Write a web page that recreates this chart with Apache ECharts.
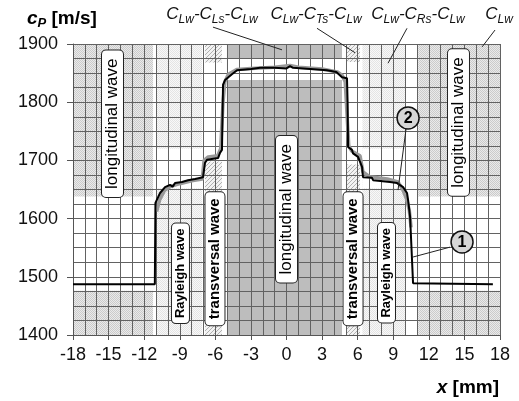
<!DOCTYPE html>
<html><head><meta charset="utf-8">
<script src="https://cdn.jsdelivr.net/npm/echarts@6/dist/echarts.min.js"></script>
<style>html,body{margin:0;padding:0;background:#fff}#c{width:519px;height:401px}</style>
</head><body><div id="c"></div>
<script>
// ---------- data ----------
const xRange = [-18, 18];
const yRange = [1400, 1900];
// curve 1 (black)
const curve1 = [[-18,1487],[-11.1,1487],[-11.05,1627],[-10.92,1630],[-10.66,1644],[-10.24,1654],[-9.82,1658],[-9.6,1655],[-9.4,1661],[-8.81,1663],[-8.3,1666],[-7.71,1668],[-7.04,1671],[-6.87,1696],[-6.7,1701],[-5.77,1704],[-5.61,1713],[-5.44,1718],[-5.4,1770],[-5.35,1830],[-5.18,1838],[-4.6,1848],[-4.17,1855],[-3,1857],[-2.23,1859],[-1,1859],[0,1858],[0.3,1862],[0.55,1859],[2,1857],[3.42,1855],[4.2,1852],[4.68,1843],[5.1,1841],[5.15,1800],[5.19,1723],[5.52,1718],[5.61,1712],[6.03,1706],[6.37,1689],[6.45,1671],[7.21,1670],[7.3,1666],[8.73,1663],[9.32,1661],[9.83,1654],[10.16,1644],[10.25,1632],[10.42,1603],[10.67,1489],[10.75,1487],[17.4,1487]];
// curve 2 (gray)
const curve2 = [[-10.95,1612],[-10.7,1632],[-10.3,1648],[-9.8,1655],[-9,1660],[-8,1665],[-7.1,1668],[-6.95,1700],[-6.6,1706],[-5.8,1708],[-5.55,1720],[-5.35,1800],[-5.2,1835],[-4.9,1848],[-4.2,1856],[-3,1858],[-1,1860],[0.3,1863],[1,1860],[3,1857],[4.3,1852],[4.7,1846],[4.95,1835],[5.25,1725],[5.5,1716],[6.2,1708],[6.45,1680],[7,1672],[8.5,1668],[9.4,1663],[9.8,1650],[10.1,1635],[10.35,1615],[10.5,1585]];
// background zones: [x0, x1, y0, y1, kind]  kind: 0=CLw stipple,1=Rayleigh stipple,2=hatch,3=dark,4=white window
const zones = [
  [-18,-11.25,1400,1900,0],[11.1,18,1400,1900,0],
  [-11.0,-7.12,1400,1900,1],[6.4,10.0,1400,1900,1],
  [-6.87,-5.44,1400,1900,2],[5.1,6.2,1400,1900,2],
  [-5.02,4.68,1400,1900,3]
];
const windows = [
  [-18,-11.25,1476,1638,4],[11.1,18,1476,1638,4],
  [-11.0,-7.12,1652,1720,4],[6.4,10.0,1652,1720,4],
  [-6.87,-5.44,1698,1868,4],[5.1,6.2,1693,1869,4],
  [-5.02,4.68,1838,1876,4]
];
// annotations (data coordinates)
const waveLabels = [
  ['longitudinal wave',-14.67,1763,'L'],['longitudinal wave',14.5,1765,'L'],['longitudinal wave',0,1616,'L'],
  ['Rayleigh wave',-8.94,1506,'R'],['transversal wave',-6.03,1531,'T'],
  ['transversal wave',5.61,1531,'T'],['Rayleigh wave',8.43,1507,'R']
];
const topLabels = [
  [['C','Lw','-C','Ls','-C','Lw'],-6.28,1951],
  [['C','Lw','-C','Ts','-C','Lw'],2.49,1951],
  [['C','Lw','-C','Rs','-C','Lw'],11.09,1951],
  [['C','Lw'],17.92,1951]
];
const leaders = [
  [[-6.2,1929],[-0.38,1890]],
  [[2.57,1927],[5.78,1885]],
  [[10.16,1927],[8.56,1867]],
  [[17.58,1924],[16.49,1895]],
  [[13.79,1551],[10.67,1534]],
  [[10.08,1754],[9.4,1649]]
];
const markers = [['1',14.8,1560],['2',10.25,1773]];

// ---------- patterns ----------
function tile(size, bg, fg, fn){
  const c=document.createElement('canvas');c.width=size;c.height=size;
  const g=c.getContext('2d');g.fillStyle=bg;g.fillRect(0,0,size,size);g.fillStyle=fg;
  for(let y=0;y<size;y++)for(let x=0;x<size;x++)if(fn(x,y))g.fillRect(x,y,1,1);
  return {image:c,repeat:'repeat'};
}
const fills = [
  tile(2,'#eaeaea','#cbcbcb',(x,y)=>(x+y)%2===0),
  tile(2,'#f8f8f8','#e4e4e4',(x,y)=>(x+y)%2===0),
  tile(4,'#f2f2f2','#b0b0b0',(x,y)=>(x+y)%4===3),
  '#bdbdbd',
  '#ffffff'
];

const chart = echarts.init(document.getElementById('c'));
const FONT='Arial, "Liberation Sans", sans-serif';
function zoneSeries(list,z){
  return {type:'custom',z:z,silent:true,data:list,
    renderItem:function(p,api){
      const a=api.coord([api.value(0),api.value(3)]);
      const b=api.coord([api.value(1),api.value(2)]);
      return {type:'rect',shape:{x:a[0],y:a[1],width:b[0]-a[0],height:b[1]-a[1]},style:{fill:fills[api.value(4)]}};
    }};
}
const gridColor='#626262';
chart.setOption({
  animation:false,
  grid:{left:73,right:19,top:44,bottom:66},
  xAxis:{type:'value',min:xRange[0],max:xRange[1],interval:3,z:3,
    axisLine:{show:true,onZero:false,lineStyle:{color:'#555',width:1}},
    axisTick:{show:true,length:5,lineStyle:{color:'#555'}},
    axisLabel:{fontSize:18,color:'#111',fontFamily:FONT,margin:11,formatter:v=>String(v)},
    splitLine:{show:true,lineStyle:{color:gridColor,width:1}},
    minorTick:{show:false,splitNumber:3},
    minorSplitLine:{show:true,lineStyle:{color:gridColor,width:1}}},
  yAxis:{type:'value',min:yRange[0],max:yRange[1],interval:100,z:3,
    axisLine:{show:true,onZero:false,lineStyle:{color:'#555',width:1}},
    axisTick:{show:true,length:6,lineStyle:{color:'#555'}},
    axisLabel:{fontSize:18,color:'#111',fontFamily:FONT,margin:15,formatter:v=>String(v)},
    splitLine:{show:true,lineStyle:{color:gridColor,width:1}},
    minorTick:{show:false,splitNumber:4},
    minorSplitLine:{show:true,lineStyle:{color:gridColor,width:1}}},
  series:[
    zoneSeries(zones,1),
    zoneSeries(windows,1.5),
    {type:'line',data:curve2,showSymbol:false,z:5,lineStyle:{color:'#999',width:3.5},silent:true},
    {type:'line',data:curve1,showSymbol:false,z:6,lineStyle:{color:'#000',width:2},silent:true}
  ]
});

const px = p => chart.convertToPixel({gridIndex:0},p);
const g = [];
const boxStyle = {L:{fontSize:17,fontWeight:'normal',padding:[2,8]},T:{fontSize:15,fontWeight:'bold',padding:[2,6]},R:{fontSize:13,fontWeight:'bold',padding:[2,5]}};
waveLabels.forEach(w=>{
  const p=px([w[1],w[2]]);const s=boxStyle[w[3]];
  g.push({type:'text',x:p[0],y:p[1],rotation:Math.PI/2,z:20,
    style:{text:w[0],fontSize:s.fontSize,fontWeight:s.fontWeight,fontFamily:FONT,fill:'#000',
      align:'center',verticalAlign:'middle',backgroundColor:'#fff',borderColor:'#222',borderWidth:1,borderRadius:4,padding:s.padding}});
});
const rich={c:{fontSize:17,fontStyle:'italic',fontFamily:FONT,fill:'#111',color:'#111',lineHeight:22,verticalAlign:'middle'},
            s:{fontSize:12,fontStyle:'italic',fontFamily:FONT,fill:'#111',color:'#111',lineHeight:13,verticalAlign:'bottom'}};
topLabels.forEach(t=>{
  const p=px([t[1],t[2]]);
  const txt=t[0].map((v,i)=>'{'+(i%2?'s':'c')+'|'+v+'}').join('');
  g.push({type:'text',x:p[0],y:p[1],z:20,style:{text:txt,rich:rich,align:'center',verticalAlign:'middle'}});
});
leaders.forEach(l=>{
  const a=px(l[0]),b=px(l[1]);
  g.push({type:'line',z:19,shape:{x1:a[0],y1:a[1],x2:b[0],y2:b[1]},style:{stroke:'#222',lineWidth:1}});
});
markers.forEach(m=>{
  const p=px([m[1],m[2]]);
  g.push({type:'circle',z:21,shape:{cx:p[0],cy:p[1],r:11},style:{fill:'#d6d6d6',stroke:'#111',lineWidth:1.5}});
  g.push({type:'text',z:22,x:p[0],y:p[1]+1,style:{text:m[0],fontSize:16,fontWeight:'bold',fontFamily:FONT,fill:'#000',align:'center',verticalAlign:'middle'}});
});
// axis names
const nameRich={b:{fontSize:19,fontWeight:'bold',fontStyle:'italic',fontFamily:FONT,fill:'#000',color:'#000',lineHeight:24,verticalAlign:'middle'},
  sb:{fontSize:13,fontWeight:'bold',fontStyle:'italic',fontFamily:FONT,fill:'#000',color:'#000',lineHeight:14,verticalAlign:'bottom'},
  n:{fontSize:19,fontWeight:'bold',fontFamily:FONT,fill:'#000',color:'#000',lineHeight:24,verticalAlign:'middle'}};
const yName=px([-18.93,1944]);
g.push({type:'text',x:yName[0],y:yName[1],z:20,style:{text:'{b|c}{sb|P}{n| [m/s]}',rich:nameRich,align:'center',verticalAlign:'middle'}});
const xName=px([17.92,1309]);
g.push({type:'text',x:xName[0],y:xName[1],z:20,style:{text:'{b|x}{n| [mm]}',rich:nameRich,align:'right',verticalAlign:'middle'}});
chart.setOption({graphic:g});
</script></body></html>
